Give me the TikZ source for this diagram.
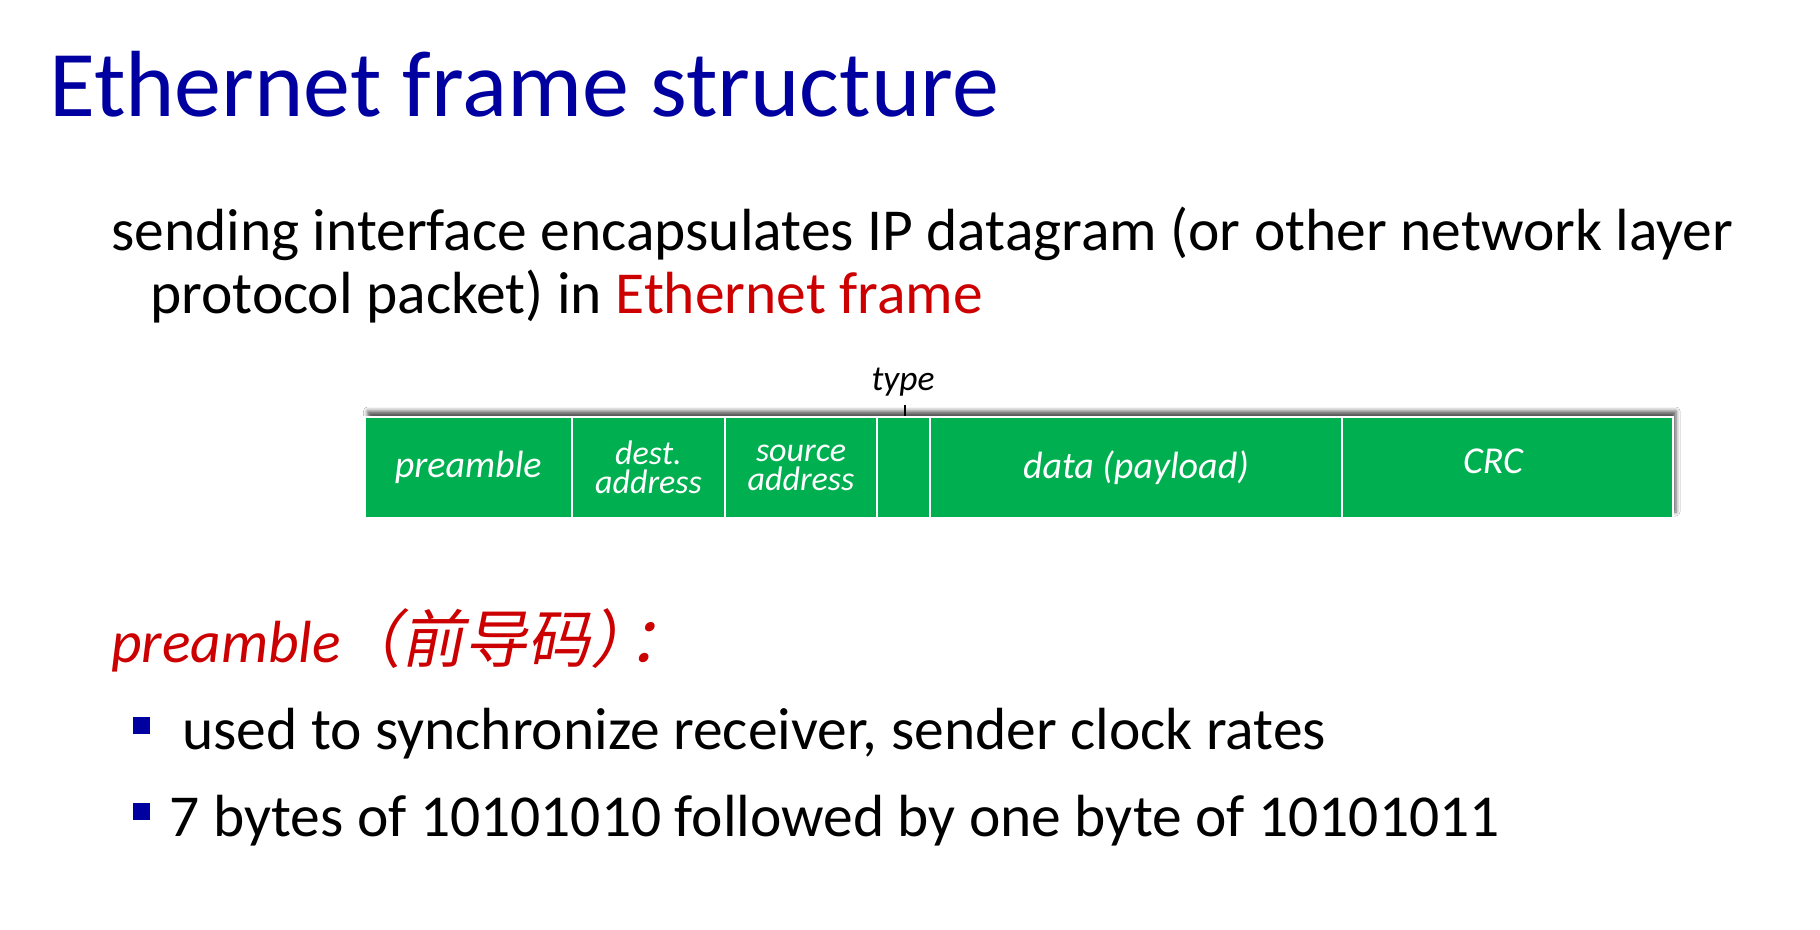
\documentclass[tikz,border=0pt]{standalone}
\usepackage{fontspec}
\setmainfont{Carlito}
\newfontfamily\cjk[AutoFakeSlant=0.2]{Noto Sans CJK SC}
\usetikzlibrary{shadows.blur}
\definecolor{titleblue}{RGB}{0,0,160}
\definecolor{framegreen}{RGB}{0,176,80}
\definecolor{hired}{RGB}{204,0,0}
\begin{document}
\begin{tikzpicture}[x=1pt,y=-1pt,
  txt/.style={anchor=base west,inner sep=0pt},
  body/.style={txt,font=\fontsize{59.5}{59.5}\selectfont},
  cell/.style={fill=framegreen,draw=white,line width=2.2pt,minimum height=101pt,
    inner sep=0pt,text=white,align=center,
    font=\fontsize{38}{28}\selectfont\itshape},
  twoline/.style={cell,font=\fontsize{34}{29}\selectfont\itshape},
  bullet/.style={fill=titleblue,minimum size=17pt,inner sep=0pt}]
\useasboundingbox[fill=white] (0,0) rectangle (1820,929);

% title and introduction
\node[txt,text=titleblue,font=\fontsize{94}{94}\selectfont] (title) at (49,116) {Ethernet frame structure};
\node[body] (intro1) at (111,250) {sending interface encapsulates IP datagram (or other network layer};
\node[body] (intro2) at (150,313) {protocol packet) in \textcolor{hired}{Ethernet frame}};

% frame with shadow
\path[fill=framegreen,blur shadow={shadow xshift=3pt,shadow yshift=6pt,shadow blur radius=4pt,shadow opacity=65}]
  (364.5,417) rectangle (1673,518);
\node[cell,minimum width=207.5pt] (pre) at (468.25,467.5) {preamble};
\node[twoline,minimum width=153pt] (dst) at (648.5,467.5) {dest.\\address};
\node[twoline,minimum width=152pt] (src) at (801,467.5) {source\\address};
\node[cell,minimum width=53pt] (typ) at (903.5,467.5) {};
\node[cell,minimum width=412pt] (dat) at (1136,467.5) {data (payload)};
\node[cell,minimum width=331pt] (crc) at (1507.5,467.5) {};
\node[anchor=base,inner sep=0pt,text=white,font=\fontsize{38}{38}\selectfont\itshape] (crclbl) at (1493,473) {CRC};

% type label with tick
\node[anchor=base,inner sep=0pt,font=\fontsize{35.5}{35.5}\selectfont\itshape] (typlbl) at (903,390) {type};
\coordinate (tick) at (905,405);
\draw[line width=1.3pt] (tick) -- (tick |- typ.north);

% preamble description
\node[txt,text=hired,font=\fontsize{59.5}{59.5}\selectfont\itshape] (pretitle) at (111,662)
  {preamble {\cjk\fontsize{63}{63}\selectfont\kern-16pt （前导码）\kern-26pt ：}};
\node[bullet] (b1) at (141.5,725.5) {};
\node[body] (t1) at (182,749) {used to synchronize receiver, sender clock rates};
\node[bullet] (b2) at (141.5,811.5) {};
\node[body] (t2) at (169.5,836) {7 bytes of 10101010 followed by one byte of 10101011};
\end{tikzpicture}
\end{document}
